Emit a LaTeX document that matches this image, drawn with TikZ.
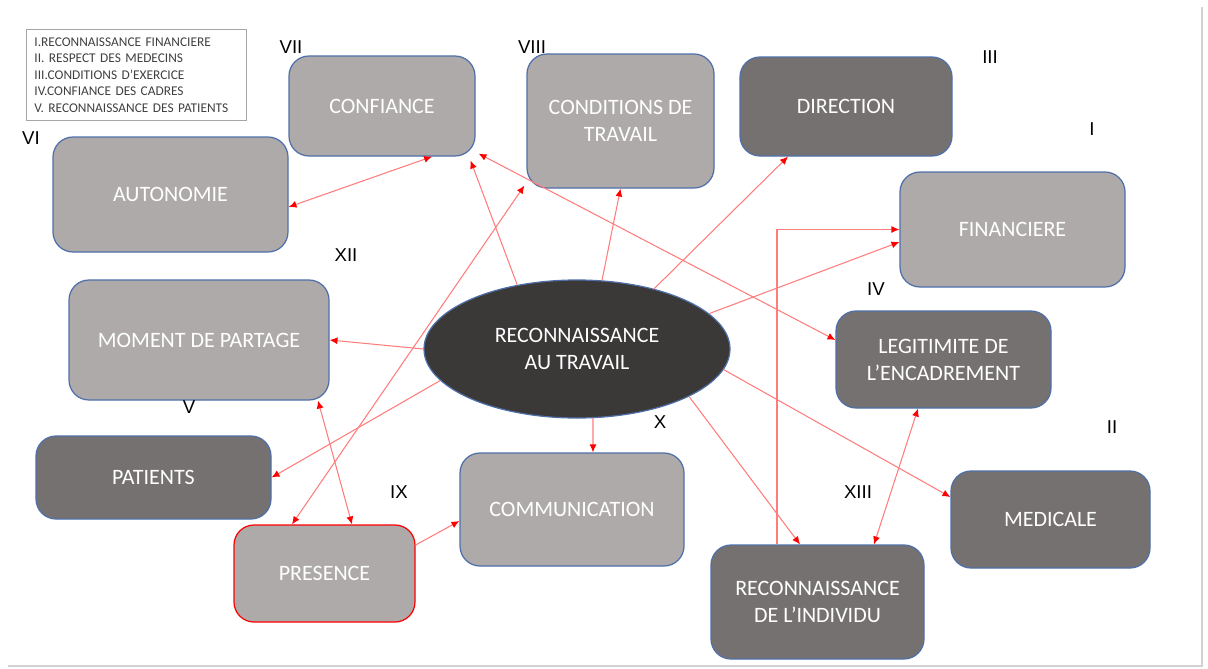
\documentclass[tikz,border=0pt]{standalone}
\usepackage{fontspec}
\setmainfont{Carlito}
\newfontfamily\numfont{Liberation Sans}
\usetikzlibrary{arrows.meta,shapes.geometric}
\definecolor{boxlight}{HTML}{AEAAAA}
\definecolor{boxdark}{HTML}{767171}
\definecolor{ovaldark}{HTML}{3B3838}
\definecolor{edgeblue}{HTML}{4F6FA8}
\definecolor{linkred}{HTML}{FF7C7C}
\tikzset{
  box/.style={rectangle,rounded corners=0.4cm,draw=edgeblue,line width=0.7pt,inner sep=0pt,
    text=white,align=center,font=\fontsize{12.5}{15.3}\selectfont},
  light/.style={box,fill=boxlight},
  dark/.style={box,fill=boxdark},
  roman/.style={font=\numfont\fontsize{10.6}{12}\selectfont},
  link/.style={draw=linkred,line width=0.6pt,>={Latex[length=4.5pt,width=4pt,color=red]}}
}

\begin{document}
\begin{tikzpicture}
  \useasboundingbox (0,0) rectangle (24.16,-13.36);
  \draw[gray!35,line width=0.8pt] (0.16,-13.32) -- (24.04,-13.32) -- (24.04,-0.14);

  % legende
  \node[draw=gray!70,line width=0.5pt,anchor=north west,text width=4.08cm,inner xsep=0.16cm,
    minimum height=1.82cm,align=left,text=black!75,font=\fontsize{7.6}{9.4}\selectfont]
    (legende) at (0.52,-0.58) {I.RECONNAISSANCE FINANCIERE\\II. RESPECT DES MEDECINS\\
    III.CONDITIONS D’EXERCICE\\IV.CONFIANCE DES CADRES\\V. RECONNAISSANCE DES PATIENTS};

  \node[ellipse,draw=edgeblue,line width=0.7pt,fill=ovaldark,minimum width=6.12cm,minimum height=2.76cm,
    inner sep=0pt,text=white,align=center,font=\fontsize{12.5}{15.3}\selectfont]
    (rec) at (11.54,-6.98) {RECONNAISSANCE\\AU TRAVAIL};

  \node[light,minimum width=3.72cm,minimum height=2cm] (conf) at (7.64,-2.12) {CONFIANCE};
  \node[light,minimum width=3.74cm,minimum height=2.68cm] (cond) at (12.41,-2.42) {CONDITIONS DE\\TRAVAIL};
  \node[dark,minimum width=4.24cm,minimum height=1.98cm] (dir) at (16.92,-2.13) {DIRECTION};
  \node[light,minimum width=4.5cm,minimum height=2.3cm] (fin) at (20.25,-4.59) {FINANCIERE};
  \node[dark,minimum width=4.3cm,minimum height=1.94cm] (lgt) at (18.87,-7.19) {LEGITIMITE DE\\L’ENCADREMENT};
  \node[dark,minimum width=3.98cm,minimum height=1.94cm] (med) at (21.01,-10.39) {MEDICALE};
  \node[dark,minimum width=4.26cm,minimum height=2.28cm] (ind) at (16.35,-12.04) {RECONNAISSANCE\\DE L’INDIVIDU};
  \node[light,minimum width=4.48cm,minimum height=2.26cm] (comm) at (11.44,-10.19) {COMMUNICATION};
  \node[light,draw=red,minimum width=3.62cm,minimum height=1.94cm] (pres) at (6.49,-11.47) {PRESENCE};
  \node[dark,minimum width=4.7cm,minimum height=1.66cm] (pat) at (3.07,-9.55) {PATIENTS};
  \node[light,minimum width=5.2cm,minimum height=2.4cm] (mom) at (3.98,-6.8) {MOMENT DE PARTAGE};
  \node[light,minimum width=4.7cm,minimum height=2.3cm] (auto) at (3.41,-3.89) {AUTONOMIE};

  % numeros
  \node[roman] (n7) at (5.82,-0.94) {VII};
  \node[roman] (n8) at (10.64,-0.94) {VIII};
  \node[roman] (n3) at (19.8,-1.14) {III};
  \node[roman] (n1) at (21.84,-2.58) {I};
  \node[roman] (n6) at (0.62,-2.76) {VI};
  \node[roman] (n12) at (6.92,-5.1) {XII};
  \node[roman] (n4) at (17.52,-5.78) {IV};
  \node[roman] (n5) at (3.78,-8.14) {V};
  \node[roman] (n10) at (13.2,-8.44) {X};
  \node[roman] (n2) at (22.24,-8.54) {II};
  \node[roman] (n9) at (7.98,-9.84) {IX};
  \node[roman] (n13) at (17.16,-9.84) {XIII};

  % liens
  \draw[link,<->] ([yshift=-0.25cm]auto.east) -- ([xshift=1cm]conf.south);
  \draw[link,->] (rec.133) -- ([shift={(-0.1,-0.08)}]conf.south east);
  \draw[link,<->] ([shift={(-0.04,0.06)}]cond.south west) -- ([xshift=-0.65cm]pres.north);
  \draw[link,<->] ([shift={(0.06,0.06)}]conf.south east) -- ([yshift=0.39cm]lgt.west);
  \draw[link,->] (rec.70) -- (cond.south);
  \draw[link,->] (rec.38) -- ([xshift=-1.16cm]dir.south);
  \draw[link,->] (rec.15) -- ([yshift=-0.25cm]fin.west);
  \draw[link,->] ([xshift=-0.81cm]ind.north) |- (fin.west);
  \draw[link,->] (rec.-8) -- ([yshift=0.45cm]med.west);
  \draw[link,->] (rec.-23) -- ([xshift=-0.35cm]ind.north);
  \draw[link,<->] ([xshift=-0.51cm]lgt.south) -- ([xshift=1.13cm]ind.north);
  \draw[link,->] (rec.-77) -- ([xshift=0.42cm]comm.north);
  \draw[link,->] ([yshift=0.57cm]pres.east) -- ([yshift=-0.23cm]comm.west);
  \draw[link,<->] ([xshift=2.38cm]mom.south) -- ([xshift=0.55cm]pres.north);
  \draw[link,->] (rec.193) -- (pat.east);
  \draw[link,->] (rec.180) -- (mom.east);
\end{tikzpicture}
\end{document}
